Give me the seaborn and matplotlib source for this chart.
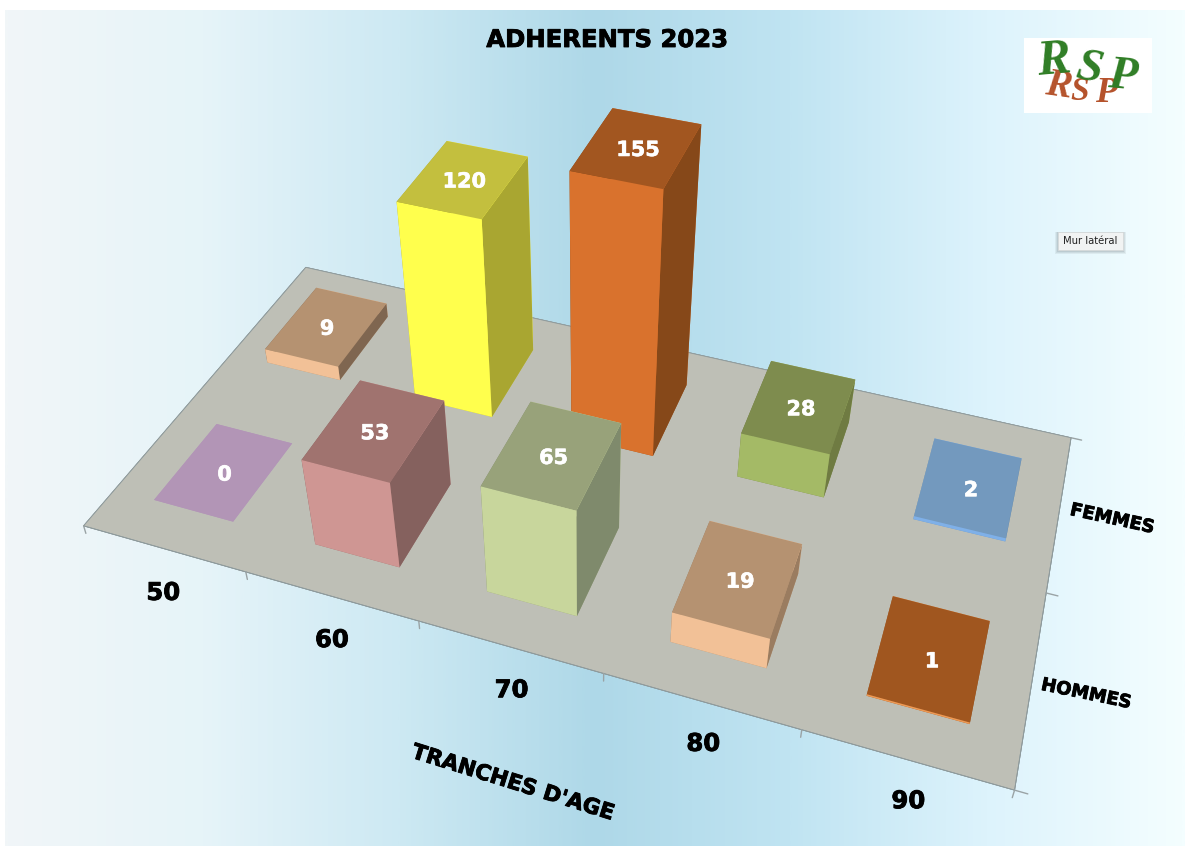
import numpy as np
import seaborn as sns
import matplotlib
matplotlib.use("Agg")
import matplotlib.pyplot as plt
import matplotlib.patheffects as pe
from matplotlib.patches import Rectangle
from mpl_toolkits.mplot3d import proj3d

# Values
ages = ["50", "60", "70", "80", "90"]
groups = ["HOMMES", "FEMMES"]
hommes = [0, 53, 65, 19, 1]
femmes = [9, 120, 155, 28, 2]

# (front, top, side) colours of each bar
hommes_colors = [
    ("#C4A3CA", "#B295B6", "#93799A"),
    ("#CF9693", "#A0736F", "#85615E"),
    ("#C8D69C", "#98A27A", "#7F8A6C"),
    ("#F2C197", "#B59271", "#9A7C60"),
    ("#EE9A55", "#A0561F", "#8A4A1B"),
]
femmes_colors = [
    ("#F2C197", "#B59271", "#7F6650"),
    ("#FFFF4D", "#C3BF3E", "#A9A631"),
    ("#D9722D", "#A25620", "#864819"),
    ("#A4BA66", "#7E8C4E", "#6F7B42"),
    ("#7FB0E8", "#7399BE", "#64859F"),
]
bg_stops = ["#F1F6F8", "#E6F4F9", "#CDE9F3", "#AED8E8", "#C0E4F2", "#DDF3FC", "#F4FEFF"]
floor_color = "#BEBFB6"

W, H = 1185, 846
GX, GY = 0.2508, 0.2371

sns.set_theme(style="white")
plt.rcParams["font.family"] = ["DejaVu Sans"]
fig = plt.figure(figsize=(W / 100, H / 100), dpi=100, facecolor="white")

# heavier look for the bold labels
heavy_k = [pe.withStroke(linewidth=0.6, foreground="black")]
heavy_w = [pe.withStroke(linewidth=0.4, foreground="white")]

# background gradient
bg = fig.add_axes([5 / W, 0, 1 - 5 / W, 1 - 10 / H])
cmap = sns.blend_palette(bg_stops, n_colors=256, as_cmap=True)
bg.imshow(np.linspace(0, 1, 512)[None, :], aspect="auto", cmap=cmap)
bg.set_axis_off()

# 3d axes, camera fitted to the floor and the bars of the picture
s = 5884.49
size = s * 0.185
ax = fig.add_axes([(595.19 - s * 0.095) / W, (H - 355.64 - s * 0.095) / H, size / W, size / H],
                  projection="3d")
ax.patch.set_alpha(0)
ax.set_xticks([])
ax.set_yticks([])
ax.set_zticks([])
ax.set_axis_off()
ax.computed_zorder = False
ax.set_xlim(0, 5)
ax.set_ylim(0, 2)
ax.set_zlim(0, 155)
ax.view_init(elev=39.1953, azim=-70.7344, roll=-0.332)
ax.set_proj_type("persp", focal_length=0.2554)
ax.set_box_aspect((5, 2 * 1.276, 1.8149))
M = ax.get_proj()


def label3d(x, y, z, txt, **kw):
    # text placed at the projected position of a 3d point
    px, py, _ = proj3d.proj_transform(x, y, z, M)
    ax.text2D(px, py, txt, transform=ax.transData, fontweight="bold", ha="center", va="center",
              zorder=50, **kw)


# floor
ax.bar3d([0], [0], [0], [5], [2], [0], color=floor_color, shade=False, zorder=1,
         edgecolor="#8E9A9C", linewidth=0.6)

# axis ticks hanging under the floor
for i in range(6):
    ax.plot([i, i], [0, 0], [0, -5], color="#9AA3A5", lw=1, zorder=1.5)
for j in range(3):
    ax.plot([5, 5.06], [j, j], [0, 0], color="#9AA3A5", lw=1, zorder=1.5)


def draw_bar(i, j, val, cols, z):
    front, top, side = cols
    # bottom, top, -y, +y, -x, +x
    faces = [top, top, front, front, side, side]
    ax.bar3d([i + GX], [j + GY], [0], [1 - 2 * GX], [1 - 2 * GY], [val],
             color=faces, shade=False, zorder=z, edgecolor="none", linewidth=0)
    label3d(i + 0.515, j + 0.48, val, str(val), color="white", fontsize=15, path_effects=heavy_w)


# back row first, then front row
for i in range(5):
    draw_bar(i, 1, femmes[i], femmes_colors[i], 2 + i)
for i in range(5):
    draw_bar(i, 0, hommes[i], hommes_colors[i], 10 + i)

for i, a in enumerate(ages):
    label3d(i + 0.67 - 0.03 * i, -0.215 + 0.01 * i, 0, a, color="black", fontsize=17.5,
            path_effects=heavy_k)

fig.text(607 / W, 1 - 40 / H, "ADHERENTS 2023", color="black", fontsize=17.5, fontweight="bold",
         ha="center", va="center", path_effects=heavy_k)
fig.text(1112 / W, 1 - 519 / H, groups[1], color="black", fontsize=13, fontweight="bold",
         rotation=-12.4, ha="center", va="center", rotation_mode="anchor", path_effects=heavy_k)
fig.text(1086 / W, 1 - 694 / H, groups[0], color="black", fontsize=13, fontweight="bold",
         rotation=-11.7, ha="center", va="center", rotation_mode="anchor", path_effects=heavy_k)
fig.text(513 / W, 1 - 783 / H, "TRANCHES D'AGE", color="black", fontsize=15.5, fontweight="bold",
         rotation=-17.3, ha="center", va="center", rotation_mode="anchor", path_effects=heavy_k)

# logo
fig.add_artist(Rectangle((1024 / W, 1 - 113 / H), 128 / W, 75 / H, transform=fig.transFigure,
                         facecolor="white", edgecolor="none"))
for ch, x, y, rot, fs, col in [
    ("R", 1058, 86, -8, 28, "#B5532C"), ("S", 1080, 91, 0, 24, "#B5532C"), ("P", 1106, 93, 0, 26, "#B5532C"),
    ("R", 1054, 62, 5, 36, "#2F7D25"), ("S", 1089, 69, -10, 34, "#2F7D25"), ("P", 1122, 77, -5, 34, "#2F7D25"),
]:
    fig.text(x / W, 1 - y / H, ch, color=col, fontsize=fs, fontweight="bold", fontstyle="italic",
             family="Liberation Serif", rotation=rot, ha="center", va="center")

# tooltip
for off, alpha in [(4, 0.12), (3, 0.15), (2, 0.2)]:
    fig.add_artist(Rectangle(((1058 - off + 1) / W, 1 - (250 + off) / H), (65 + 2 * off - 2) / W, (18 + off) / H,
                             transform=fig.transFigure, facecolor="#7F8C91", edgecolor="none", alpha=alpha))
fig.add_artist(Rectangle((1058 / W, 1 - 250 / H), 65 / W, 18 / H, transform=fig.transFigure,
                         facecolor="#F1F3F3", edgecolor="#D5D8D9", linewidth=0.5))
fig.text(1090.5 / W, 1 - 241.5 / H, "Mur latéral", color="#222222", fontsize=7.2,
         ha="center", va="center")

fig.savefig("out.png", dpi=100)
